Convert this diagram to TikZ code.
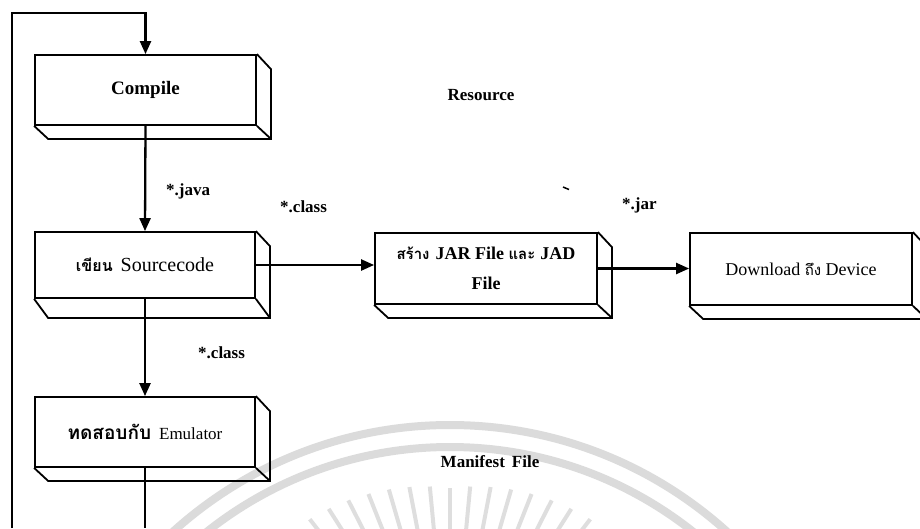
\documentclass[tikz,border=0pt]{standalone}
\usepackage{fontspec}
\setmainfont{Liberation Serif}
\newfontfamily\thaifont[Script=Thai]{Loma}
\usetikzlibrary{arrows.meta,calc}
\newcommand\cubefaces[2]{%
  \draw[boxline] (#1.north east) -- ++(14,15) -- ($(#1.south east)+(14,#2)$) -- ($(#1.south west)+(14,#2)$) -- (#1.south west);
  \draw[boxline] (#1.south east) -- ($(#1.south east)+(14,#2)$);
}
\newcommand\fs[1]{\fontsize{#1}{#1}\selectfont}
\begin{document}
\begin{tikzpicture}[x=1pt,y=-1pt,
  boxline/.style={line width=1.8pt, line join=miter},
  cubefront/.style={draw, line width=1.8pt, rectangle, inner sep=0pt, align=center},
  conn/.style={line width=2.3pt, -{Triangle[width=11pt,length=13pt]}},
  plainconn/.style={line width=2.3pt},
  lbl/.style={inner sep=0pt, anchor=west, font=\fs{17}\bfseries},
  wm/.style={line width=8pt, draw=black!14},
  wmray/.style={line width=4pt, draw=black!13}
]
\useasboundingbox (0,0) rectangle (920,528);
% watermark
\coordinate (wmc) at (450,838);
\coordinate (wmr) at (450,700);
\draw[wm] (wmc) circle[radius=413];
\draw[wm] (wmc) circle[radius=391];
\foreach \a in {-7,...,7}{
  \draw[wmray] ($(wmr)+({270+\a*5.4}:150)$) -- ($(wmr)+({270+\a*5.4}:{212+abs(\a)*2.4})$);
}
% boxes
\node[cubefront, minimum width=221pt, minimum height=70pt, font=\fs{19}\bfseries] (compile) at (145.5,90) {Compile};
\node[cubefront, minimum width=220pt, minimum height=66pt, font=\fs{20}] (src) at (145,265) {{\thaifont\fs{16}\bfseries เขียน}\hspace{8pt}Sourcecode};
\node[cubefront, minimum width=222pt, minimum height=71pt, font=\fs{18}\bfseries, align=center] (jar) at (486,268.5) {{\thaifont\fs{15}\bfseries สร้าง}\hspace{6pt}JAR File {\thaifont\fs{15}\bfseries และ}\hspace{5pt}JAD\\[12pt]File};
\node[cubefront, minimum width=222pt, minimum height=72pt, font=\fs{18}] (dl) at (801,269) {Download {\thaifont\fs{15}ถึง} Device};
\node[cubefront, minimum width=220pt, minimum height=70pt, font=\fs{17}] (emu) at (145,432) {{\thaifont\fs{19}\bfseries ทดสอบกับ}\hspace{8pt}Emulator};
\cubefaces{compile}{13}
\cubefaces{src}{19}
\cubefaces{jar}{13}
\cubefaces{dl}{13}
\cubefaces{emu}{13}
% loop
\coordinate (bl) at (12,528);
\coordinate (tl) at (12,13);
\coordinate (be) at (145,528);
\draw[conn] (bl) -- (tl) -| (compile.north);
\draw[conn] (compile.south) -- (src.north);
\draw[conn] (src.east) -- (src.east -| jar.west);
\draw[conn] (jar.east) -- (jar.east -| dl.west);
\draw[conn] (src.south) -- (emu.north);
\draw[plainconn] (emu.south) -- (be);
% labels
\node[lbl] (ljava) at (166,191) {*.java};
\node[lbl] (lclass1) at (280,207) {*.class};
\node[lbl] (ljar) at (622,205) {*.jar};
\node[lbl] (lclass2) at (198,353) {*.class};
\node[font=\fs{17}\bfseries, inner sep=0pt] (res) at (481,95) {Resource};
\node[font=\fs{17}\bfseries, inner sep=0pt] (man) at (490,462) {Manifest\hspace{7pt}File};
\coordinate (d1) at (563,187);
\coordinate (d2) at (569,189.5);
\draw[line width=1.5pt] (d1) -- (d2);
\end{tikzpicture}
\end{document}
